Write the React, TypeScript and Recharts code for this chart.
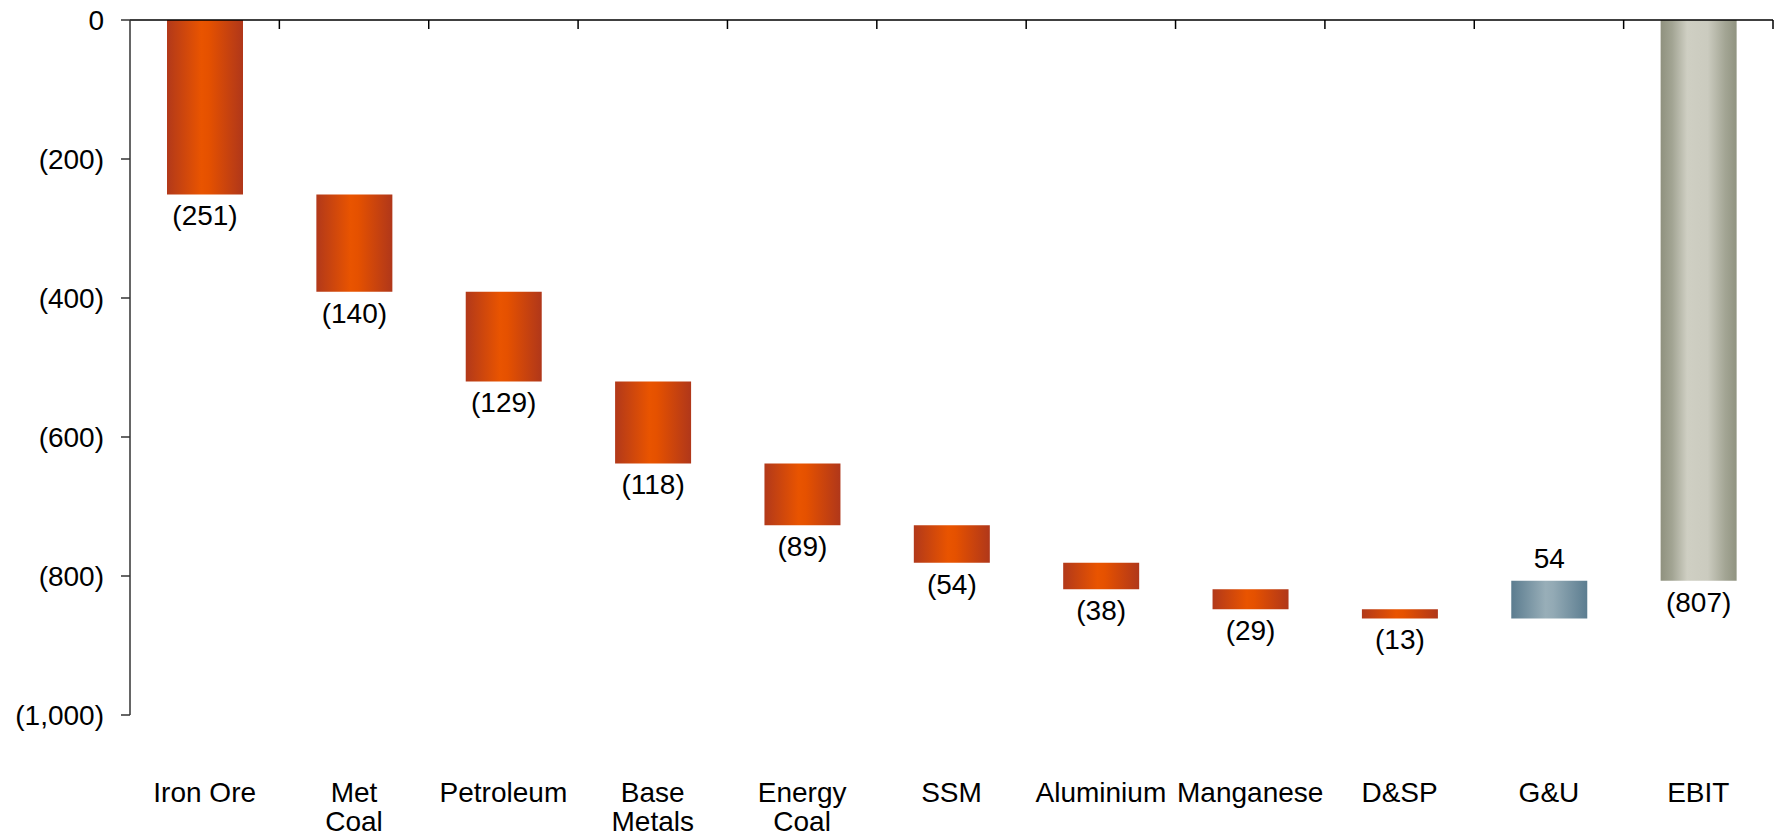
import { BarChart, Bar, XAxis, YAxis, LabelList, Cell } from 'recharts'

const categories = ['Iron Ore', 'Met\nCoal', 'Petroleum', 'Base\nMetals', 'Energy\nCoal', 'SSM', 'Aluminium', 'Manganese', 'D&SP', 'G&U', 'EBIT']
const changes = [-251, -140, -129, -118, -89, -54, -38, -29, -13, 54]
const ebit = -807
const yTicks = [0, -200, -400, -600, -800, -1000]

const FONT = '"Liberation Sans", Arial, sans-serif'

// waterfall: each step floats from the running total, EBIT is a full bar
let running = 0
const data = categories.map((name, i) => {
  if (i < changes.length) {
    const start = running
    running += changes[i]
    return {
      name,
      range: [Math.min(start, running), Math.max(start, running)],
      value: changes[i],
      kind: changes[i] < 0 ? 'neg' : 'pos',
    }
  }
  return { name, range: [ebit, 0], value: ebit, kind: 'total' }
})

const fmt = (v: number) => {
  const s = Math.abs(v).toLocaleString('en-US')
  return v < 0 ? `(${s})` : s
}

const fillFor = (kind: string) =>
  kind === 'neg' ? 'url(#gOrange)' : kind === 'pos' ? 'url(#gBlue)' : 'url(#gGrey)'

function CatTick(props: any) {
  const { x, y, payload } = props
  const lines = String(payload.value).split('\n')
  return (
    <text x={x} y={y} textAnchor="middle" fontSize={28} fill="#000" fontFamily={FONT}>
      {lines.map((l, i) => (
        <tspan key={i} x={x} dy={i === 0 ? 87 : 29}>
          {l}
        </tspan>
      ))}
    </text>
  )
}

// top frame: tick marks hang down at the right edge of each category band
function FrameTick(props: any) {
  const { x, y, payload } = props
  const bx = x + (payload.offset || 0)
  return <line x1={bx} y1={y} x2={bx} y2={y + 9} stroke="#000" strokeWidth={1.5} />
}

function ValueLabel(props: any) {
  const { x, y, width, height, index } = props
  const d = data[index]
  const top = Math.min(y, y + height)
  const bottom = Math.max(y, y + height)
  const ty = d.value < 0 ? bottom + 31 : top - 13
  return (
    <text x={x + width / 2} y={ty} textAnchor="middle" fontSize={28} fill="#000" fontFamily={FONT}>
      {fmt(d.value)}
    </text>
  )
}

export default function App() {
  return (
    <div style={{ position: 'absolute', left: 0, top: 0, background: '#fff' }}>
      <BarChart
        width={1777}
        height={838}
        data={data}
        margin={{ top: 19, right: 4, left: 0, bottom: 0 }}
        style={{ fontFamily: FONT }}
      >
        <defs>
          <linearGradient id="gOrange" x1="0" y1="0" x2="1" y2="0">
            <stop offset="0%" stopColor="#b2391a" />
            <stop offset="45%" stopColor="#e95400" />
            <stop offset="55%" stopColor="#e55100" />
            <stop offset="100%" stopColor="#b0371a" />
          </linearGradient>
          <linearGradient id="gBlue" x1="0" y1="0" x2="1" y2="0">
            <stop offset="0%" stopColor="#5b7c8f" />
            <stop offset="45%" stopColor="#98aeb8" />
            <stop offset="55%" stopColor="#93aab5" />
            <stop offset="100%" stopColor="#5c7d90" />
          </linearGradient>
          <linearGradient id="gGrey" x1="0" y1="0" x2="1" y2="0">
            <stop offset="0%" stopColor="#8f917e" />
            <stop offset="15%" stopColor="#a2a493" />
            <stop offset="35%" stopColor="#cfcfc3" />
            <stop offset="62%" stopColor="#cbcbbf" />
            <stop offset="85%" stopColor="#a3a594" />
            <stop offset="100%" stopColor="#909380" />
          </linearGradient>
        </defs>
        <XAxis
          xAxisId="cat"
          dataKey="name"
          height={123}
          axisLine={false}
          tickLine={false}
          tickSize={0}
          tickMargin={0}
          interval={0}
          tick={<CatTick />}
        />
        <XAxis
          xAxisId="frame"
          dataKey="name"
          orientation="top"
          height={1}
          interval={0}
          tickSize={0}
          tickMargin={0}
          tickLine={false}
          tick={<FrameTick />}
          axisLine={{ stroke: '#000', strokeWidth: 1.5 }}
        />
        <YAxis
          type="number"
          domain={[-1000, 0]}
          ticks={yTicks}
          width={130}
          tickSize={9}
          tickMargin={17}
          tickFormatter={fmt}
          axisLine={{ stroke: '#333', strokeWidth: 1.5 }}
          tickLine={{ stroke: '#333', strokeWidth: 1.5 }}
          tick={{ fontSize: 28, fill: '#000', fontFamily: FONT }}
        />
        <Bar xAxisId="cat" dataKey="range" barSize={76} isAnimationActive={false}>
          {data.map((d, i) => (
            <Cell key={i} fill={fillFor(d.kind)} />
          ))}
          <LabelList dataKey="value" content={<ValueLabel />} />
        </Bar>
      </BarChart>
    </div>
  )
}
